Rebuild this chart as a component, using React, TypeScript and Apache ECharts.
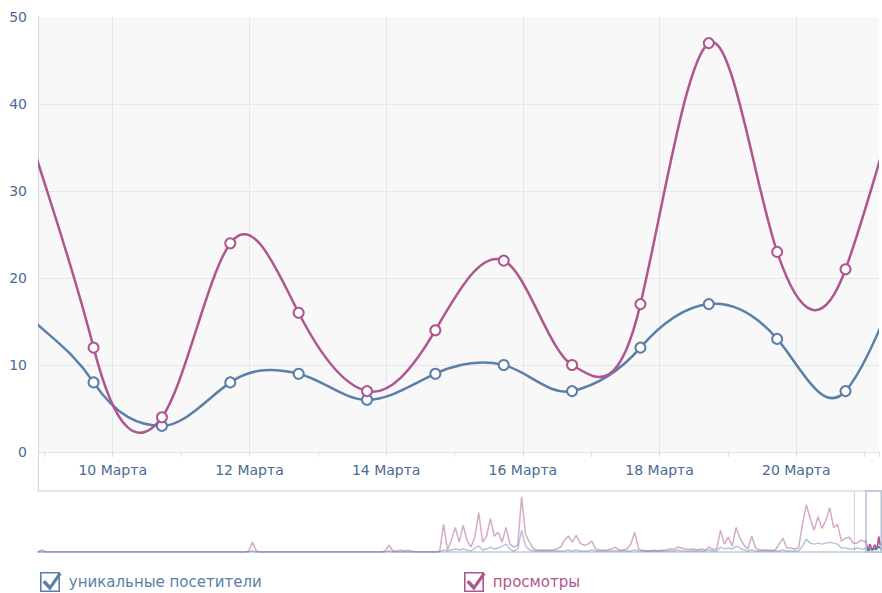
import React, { useEffect, useRef } from 'react';
import * as echarts from 'echarts';

// ---- data (main view: one point per day, x = day of March) ----
const POINT_DAYS = [8.72, 9.72, 10.72, 11.72, 12.72, 13.72, 14.72, 15.72, 16.72, 17.72, 18.72, 19.72, 20.72, 21.72];
const UNIQUE = [16, 8, 3, 8, 9, 6, 9, 10, 7, 12, 17, 13, 7, 23];
const VIEWS = [38, 12, 4, 24, 16, 7, 14, 22, 10, 17, 47, 23, 21, 47];
const MONTH = 'Марта';
const SERIES_NAMES = ['уникальные посетители', 'просмотры'];

const VIEW_START = 8.907;
const VIEW_END = 21.21;
const Y_MAX = 50;
const Y_STEP = 10;

// ---- overview history (every 3 days, starting at day -628) ----
const HISTORY_START = -628;
const HISTORY_STEP = 3;
const OVERVIEW_MAX = 186;
const HISTORY_VIEWS = [
  0, 6, 0, 0, 0, 0, 0, 0, 0, 0,
  0, 0, 0, 0, 0, 0, 0, 0, 0, 0,
  0, 0, 0, 0, 0, 0, 0, 0, 0, 0,
  0, 0, 0, 0, 0, 0, 0, 0, 0, 0,
  0, 0, 0, 0, 0, 0, 0, 0, 0, 0,
  0, 0, 0, 0, 3, 30, 3, 0, 0, 0,
  0, 0, 0, 0, 0, 0, 0, 0, 0, 0,
  0, 0, 0, 0, 0, 0, 0, 0, 0, 0,
  0, 0, 0, 0, 0, 0, 0, 0, 0, 3,
  21, 3, 3, 5, 3, 5, 2, 0, 0, 0,
  0, 0, 0, 3, 84, 6, 36, 75, 30, 81,
  36, 15, 45, 120, 30, 48, 102, 48, 60, 30,
  75, 24, 15, 21, 168, 54, 30, 10, 6, 5,
  5, 6, 6, 9, 15, 36, 48, 30, 51, 27,
  20, 24, 33, 9, 6, 5, 6, 9, 15, 6,
  6, 9, 24, 60, 9, 5, 3, 3, 5, 3,
  5, 6, 9, 8, 15, 12, 9, 8, 9, 6,
  9, 6, 15, 8, 9, 66, 24, 45, 18, 75,
  42, 21, 9, 48, 12, 6, 6, 6, 5, 6,
  24, 42, 12, 12, 9, 12, 84, 144, 102, 66,
  108, 72, 96, 135, 75, 84, 33, 42, 45, 27,
  27, 36, 30,
];
const HISTORY_UNIQUE = [
  0, 0, 0, 0, 0, 0, 0, 0, 0, 0,
  0, 0, 0, 0, 0, 0, 0, 0, 0, 0,
  0, 0, 0, 0, 0, 0, 0, 0, 0, 0,
  0, 0, 0, 0, 0, 0, 0, 0, 0, 0,
  0, 0, 0, 0, 0, 0, 0, 0, 0, 0,
  0, 0, 0, 0, 0, 3, 0, 0, 0, 0,
  0, 0, 0, 0, 0, 0, 0, 0, 0, 0,
  0, 0, 0, 0, 0, 0, 0, 0, 0, 0,
  0, 0, 0, 0, 0, 0, 0, 0, 0, 0,
  3, 0, 0, 0, 0, 0, 0, 0, 0, 0,
  0, 0, 0, 0, 6, 3, 6, 9, 6, 9,
  6, 3, 12, 18, 6, 9, 15, 9, 12, 18,
  24, 9, 3, 9, 66, 18, 6, 3, 3, 3,
  3, 3, 3, 3, 3, 3, 6, 3, 6, 3,
  3, 3, 6, 3, 3, 3, 3, 3, 3, 3,
  3, 3, 3, 6, 3, 3, 3, 3, 3, 3,
  3, 3, 3, 3, 6, 3, 3, 3, 3, 3,
  3, 3, 6, 3, 3, 15, 9, 12, 9, 18,
  12, 6, 3, 6, 3, 3, 3, 3, 3, 3,
  3, 6, 3, 3, 3, 3, 18, 39, 27, 24,
  27, 24, 27, 30, 27, 24, 12, 12, 9, 9,
  12, 9, 9,
];

// ---- styles ----
const BLUE = '#5b7fa8';
const PINK = '#b0568f';
const BLUE_LIGHT = 'rgba(91,127,168,0.45)';
const PINK_LIGHT = 'rgba(176,86,143,0.5)';
const LABEL = '#4a6b92';
const GRIDLINE = '#e3e7ef';
const AXISLINE = '#cdd6e1';
const FONT = '"DejaVu Sans", Verdana, sans-serif';
const SLOPE_GAIN = 1.8;
const CHECKBOX =
  'path://M0,0H20V20H0Z M1.6,1.6V18.4H18.4V1.6Z M2.5,10.5L5,8L10,13.2L19,0.3L21.6,2.2L10,18.6Z';

const mainPairs = (vals: number[]) => POINT_DAYS.map((d, i) => [d, vals[i]]);
const historyPairs = (vals: number[]) => vals.map((v, i) => [HISTORY_START + i * HISTORY_STEP, v]);
const isWhole = (v: number) => Math.abs(v - Math.round(v)) < 1e-6;

// cubic Hermite spline through the data points, drawn through the axis scales
function curveSeries(name: string, vals: number[], color: string, z: number) {
  const n = POINT_DAYS.length;
  return {
    name, type: 'custom', xAxisIndex: 0, yAxisIndex: 0, clip: true, silent: true, z,
    data: mainPairs(vals),
    encode: { x: 0, y: 1 },
    renderItem: (params: any, api: any) => {
      const i = params.dataIndex;
      if (i >= n - 1) return null;
      const pt = (j: number) => api.coord([POINT_DAYS[j], vals[j]]);
      const slope = (j: number) => {
        if (j === 0 || j === n - 1) {
          // end points: plain secant to the neighbour
          const a = pt(j === 0 ? 0 : n - 2), b = pt(j === 0 ? 1 : n - 1);
          return (b[1] - a[1]) / (b[0] - a[0]);
        }
        const a = pt(j - 1), b = pt(j + 1);
        return (SLOPE_GAIN * (b[1] - a[1])) / (b[0] - a[0]);
      };
      const p1 = pt(i), p2 = pt(i + 1);
      const dx = (p2[0] - p1[0]) / 3;
      const m1 = slope(i), m2 = slope(i + 1);
      return {
        type: 'bezierCurve',
        shape: {
          x1: p1[0], y1: p1[1], x2: p2[0], y2: p2[1],
          cpx1: p1[0] + dx, cpy1: p1[1] + m1 * dx,
          cpx2: p2[0] - dx, cpy2: p2[1] - m2 * dx,
        },
        style: { stroke: color, lineWidth: 2.5, fill: null },
      };
    },
  };
}

function buildOption(): any {
  return {
    animation: false,
    graphic: [
      {
        type: 'line',
        shape: { x1: 38.5, y1: 452, x2: 38.5, y2: 491 },
        style: { stroke: AXISLINE, lineWidth: 1 },
        silent: true,
      },
    ],
    grid: [
      { left: 38, right: 0, top: 17, height: 435, show: true, backgroundColor: '#f8f8f9', borderWidth: 0 },
      { left: 38, right: 0, top: 491, height: 61, show: false },
    ],
    xAxis: [
      {
        type: 'value', gridIndex: 0, position: 'bottom',
        min: VIEW_START, max: VIEW_END, minInterval: 2, maxInterval: 2,
        axisLine: { show: true, lineStyle: { color: '#dde2ea', width: 1 } },
        axisTick: { show: true, length: 5, lineStyle: { color: '#d8dee7' } },
        splitLine: { show: true, showMinLine: false, showMaxLine: false, lineStyle: { color: GRIDLINE, width: 1 } },
        axisLabel: {
          color: LABEL, fontSize: 14, fontFamily: FONT, margin: 11,
          formatter: (v: number) => (isWhole(v) ? `${Math.round(v)} ${MONTH}` : ''),
        },
      },
      {
        type: 'value', gridIndex: 0, position: 'bottom',
        min: VIEW_START, max: VIEW_END, minInterval: 1, maxInterval: 1,
        axisLine: { show: false },
        axisTick: { show: true, length: 5, lineStyle: { color: '#d8dee7' } },
        splitLine: { show: false },
        axisLabel: { show: false },
      },
      {
        type: 'value', gridIndex: 1, position: 'bottom',
        min: HISTORY_START, max: VIEW_END,
        axisLine: { show: true, lineStyle: { color: '#d0d9e3', width: 2 } },
        axisTick: { show: false }, splitLine: { show: false }, axisLabel: { show: false },
      },
      {
        type: 'value', gridIndex: 1, position: 'top',
        min: HISTORY_START, max: VIEW_END,
        axisLine: { show: true, lineStyle: { color: '#dfe5ec', width: 2 } },
        axisTick: { show: false }, splitLine: { show: false }, axisLabel: { show: false },
      },
    ],
    yAxis: [
      {
        type: 'value', gridIndex: 0, min: 0, max: Y_MAX, interval: Y_STEP,
        axisLine: { show: true, lineStyle: { color: AXISLINE, width: 1 } },
        axisTick: { show: false },
        splitLine: { show: true, showMaxLine: false, lineStyle: { color: GRIDLINE, width: 1 } },
        axisLabel: { color: LABEL, fontSize: 14, fontFamily: FONT, margin: 11 },
      },
      {
        type: 'value', gridIndex: 1, min: 0, max: OVERVIEW_MAX,
        axisLine: { show: true, lineStyle: { color: AXISLINE, width: 1 } },
        axisTick: { show: false }, splitLine: { show: false }, axisLabel: { show: false },
      },
    ],
    legend: [
      {
        left: 40, top: 572, padding: 0, itemWidth: 26, itemHeight: 20, symbolKeepAspect: true,
        selectedMode: false,
        textStyle: { fontSize: 15, fontFamily: FONT },
        data: [{ name: SERIES_NAMES[0], icon: CHECKBOX, itemStyle: { color: BLUE, borderWidth: 0 }, textStyle: { color: BLUE } }],
      },
      {
        left: 464, top: 572, padding: 0, itemWidth: 26, itemHeight: 20, symbolKeepAspect: true,
        selectedMode: false,
        textStyle: { fontSize: 15, fontFamily: FONT },
        data: [{ name: SERIES_NAMES[1], icon: CHECKBOX, itemStyle: { color: PINK, borderWidth: 0 }, textStyle: { color: PINK } }],
      },
    ],
    series: [
      curveSeries('curve-unique', UNIQUE, BLUE, 3),
      curveSeries('curve-views', VIEWS, PINK, 4),
      {
        name: SERIES_NAMES[0], type: 'line', xAxisIndex: 0, yAxisIndex: 0,
        data: mainPairs(UNIQUE), clip: true,
        symbol: 'emptyCircle', symbolSize: 10, showAllSymbol: true,
        lineStyle: { color: BLUE, width: 2.5, opacity: 0 },
        itemStyle: { color: BLUE, borderWidth: 2 },
        z: 5,
      },
      {
        name: SERIES_NAMES[1], type: 'line', xAxisIndex: 0, yAxisIndex: 0,
        data: mainPairs(VIEWS), clip: true,
        symbol: 'emptyCircle', symbolSize: 10, showAllSymbol: true,
        lineStyle: { color: PINK, width: 2.5, opacity: 0 },
        itemStyle: { color: PINK, borderWidth: 2 },
        z: 6,
      },
      {
        name: 'overview-views', type: 'line', xAxisIndex: 2, yAxisIndex: 1, silent: true,
        data: historyPairs(HISTORY_VIEWS).concat(mainPairs(VIEWS)),
        symbol: 'none', clip: true,
        lineStyle: { color: PINK_LIGHT, width: 1.5 },
      },
      {
        name: 'overview-unique', type: 'line', xAxisIndex: 2, yAxisIndex: 1, silent: true,
        data: historyPairs(HISTORY_UNIQUE).concat(mainPairs(UNIQUE)),
        symbol: 'none', clip: true,
        lineStyle: { color: BLUE_LIGHT, width: 1.5 },
      },
      {
        name: 'overview-views-selected', type: 'line', xAxisIndex: 2, yAxisIndex: 1, silent: true,
        data: mainPairs(VIEWS), symbol: 'none', clip: true,
        lineStyle: { color: PINK, width: 1.5 },
      },
      {
        name: 'overview-unique-selected', type: 'line', xAxisIndex: 2, yAxisIndex: 1, silent: true,
        data: mainPairs(UNIQUE), symbol: 'none', clip: true,
        lineStyle: { color: BLUE, width: 1.5 },
      },
      {
        name: 'overview-window', type: 'custom', xAxisIndex: 2, yAxisIndex: 1, silent: true, z: 8,
        data: [[VIEW_START, VIEW_END]],
        encode: { x: [0, 1] },
        renderItem: (_p: any, api: any) => {
          const a = api.coord([VIEW_START, 0]);
          const b = api.coord([VIEW_END, OVERVIEW_MAX]);
          return {
            type: 'rect',
            shape: { x: a[0], y: b[1], width: b[0] - a[0] - 0.75, height: a[1] - b[1] },
            style: { stroke: '#b4c2d3', lineWidth: 1.5, fill: null },
          };
        },
      },
    ],
  };
}

export default function App() {
  const ref = useRef<HTMLDivElement>(null);
  useEffect(() => {
    document.body.style.margin = '0';
    const chart = echarts.init(ref.current as HTMLDivElement, null, { renderer: 'svg' });
    chart.setOption(buildOption());
    return () => chart.dispose();
  }, []);
  return <div ref={ref} style={{ position: 'absolute', left: 0, top: 0, width: 882, height: 593 }} />;
}
